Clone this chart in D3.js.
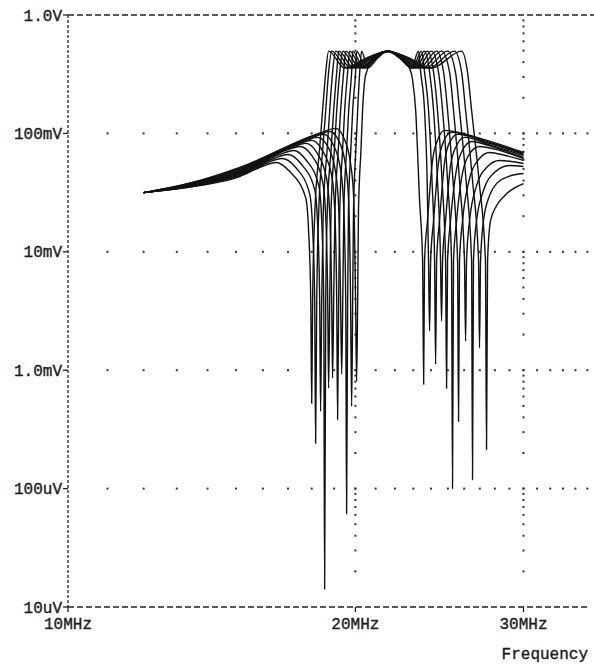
<!DOCTYPE html>
<html>
<head>
<meta charset="utf-8">
<script src="https://cdn.jsdelivr.net/npm/d3@7"></script>
<style>
body { margin: 0; background: #fff; }
.lbl { font-family: "Liberation Mono", "DejaVu Sans Mono", monospace; font-size: 16px; fill: #1a1a1a; stroke: #1a1a1a; stroke-width: 0.35px; }
</style>
</head>
<body>
<div id="chart"></div>
<script>
// axis labels
var FREQ_TICKS = [10, 20, 30];
var FREQ_LABELS = ['10MHz', '20MHz', '30MHz'];
var VOLT_TICKS = [1e-5, 1e-4, 1e-3, 1e-2, 1e-1, 1];
var VOLT_LABELS = ['10uV', '100uV', '1.0mV', '10mV', '100mV', '1.0V'];

// traces: [frequency MHz, volts]
var trace01 = [[12.0,0.0316],[13.74,0.0362],[15.13,0.0432],[15.96,0.0525],[16.51,0.0568],[17.07,0.0476],[17.74,0.0287],[17.87,0.0145],[17.96,0.00384],[18.00,0.000525],[18.04,0.00384],[18.14,0.0223],[18.34,0.0718],[18.48,0.157],[18.62,0.329],[18.75,0.495],[19.49,0.356],[20.53,0.432],[21.62,0.495],[22.79,0.432],[24.03,0.356],[25.84,0.495],[26.21,0.329],[26.47,0.157],[26.95,0.0400],[27.37,0.00839],[27.44,0.000214],[27.51,0.00839],[27.71,0.0183],[28.11,0.0245],[28.66,0.0298],[29.28,0.0342],[30.0,0.0377]];
var trace02 = [[12.0,0.0316],[13.74,0.0366],[15.13,0.0440],[16.19,0.0568],[16.75,0.0614],[17.32,0.0515],[17.91,0.0310],[18.04,0.0157],[18.13,0.00384],[18.17,0.000241],[18.22,0.00384],[18.31,0.0223],[18.48,0.0718],[18.62,0.157],[18.75,0.329],[18.89,0.495],[19.63,0.356],[20.60,0.432],[21.62,0.495],[22.71,0.432],[23.86,0.356],[25.40,0.495],[25.84,0.329],[26.09,0.157],[26.53,0.0400],[26.92,0.00839],[26.98,0.00154],[27.05,0.00839],[27.24,0.0183],[27.64,0.0298],[28.18,0.0384],[28.93,0.0432],[30.0,0.0458]];
var trace03 = [[12.0,0.0316],[13.74,0.0369],[15.13,0.0448],[16.43,0.0614],[16.99,0.0664],[17.53,0.0557],[18.13,0.0335],[18.26,0.0169],[18.35,0.00384],[18.39,0.000449],[18.44,0.00384],[18.51,0.0223],[18.68,0.0718],[18.80,0.157],[18.93,0.329],[19.07,0.495],[19.77,0.356],[20.67,0.432],[21.62,0.495],[22.63,0.432],[23.69,0.356],[24.98,0.495],[25.46,0.329],[25.71,0.157],[26.12,0.0400],[26.47,0.00839],[26.53,0.000119],[26.59,0.00839],[26.79,0.0183],[27.24,0.0329],[27.97,0.0467],[29.00,0.0536],[30.0,0.0525]];
var trace04 = [[12.0,0.0316],[13.74,0.0373],[15.13,0.0456],[16.67,0.0664],[17.24,0.0718],[17.74,0.0602],[18.31,0.0362],[18.44,0.0183],[18.53,0.00384],[18.57,0.0000142],[18.62,0.00384],[18.69,0.0223],[18.86,0.0718],[18.98,0.157],[19.12,0.329],[19.21,0.495],[19.92,0.356],[20.75,0.432],[21.62,0.495],[22.55,0.432],[23.52,0.356],[24.62,0.495],[25.10,0.329],[25.34,0.157],[25.71,0.0400],[26.02,0.00839],[26.09,0.00176],[26.15,0.00839],[26.34,0.0183],[26.79,0.0362],[27.51,0.0525],[28.31,0.0591],[30.0,0.0557]];
var trace05 = [[12.0,0.0316],[13.74,0.0376],[15.13,0.0464],[16.91,0.0718],[17.49,0.0776],[18.00,0.0651],[18.48,0.0392],[18.62,0.0198],[18.71,0.00384],[18.75,0.000704],[18.80,0.00384],[18.86,0.0223],[19.01,0.0718],[19.12,0.157],[19.26,0.329],[19.40,0.495],[20.06,0.356],[20.82,0.432],[21.62,0.495],[22.47,0.432],[23.35,0.356],[24.33,0.495],[24.74,0.329],[24.98,0.157],[25.31,0.0400],[25.59,0.00839],[25.65,0.000370],[25.71,0.00839],[25.90,0.0183],[26.34,0.0416],[26.98,0.0614],[27.64,0.0690],[28.72,0.0651],[30.0,0.0591]];
var trace06 = [[12.0,0.0316],[13.74,0.0380],[15.13,0.0472],[17.15,0.0761],[17.74,0.0823],[18.22,0.0690],[18.66,0.0416],[18.80,0.0210],[18.89,0.00384],[18.93,0.000856],[18.98,0.00384],[19.04,0.0223],[19.19,0.0718],[19.30,0.157],[19.44,0.329],[19.54,0.495],[20.21,0.356],[20.90,0.432],[21.62,0.495],[22.41,0.432],[23.24,0.356],[24.03,0.495],[24.44,0.329],[24.68,0.157],[24.98,0.0400],[25.22,0.00839],[25.28,0.000100],[25.34,0.00839],[25.53,0.0183],[25.90,0.0467],[26.40,0.0690],[26.98,0.0776],[28.31,0.0718],[30.0,0.0614]];
var trace07 = [[12.0,0.0316],[13.74,0.0384],[15.13,0.0480],[17.40,0.0807],[18.00,0.0873],[18.44,0.0732],[18.89,0.0441],[19.03,0.0223],[19.12,0.00384],[19.16,0.000384],[19.21,0.00384],[19.26,0.0223],[19.39,0.0718],[19.49,0.157],[19.63,0.329],[19.73,0.495],[20.30,0.356],[20.95,0.432],[21.62,0.495],[22.36,0.432],[23.13,0.356],[23.80,0.495],[24.15,0.329],[24.38,0.157],[24.65,0.0400],[24.86,0.00839],[24.92,0.000704],[24.98,0.00839],[25.16,0.0183],[25.53,0.0505],[25.96,0.0746],[26.47,0.0855],[27.97,0.0761],[30.0,0.0626]];
var trace08 = [[12.0,0.0316],[13.74,0.0388],[15.13,0.0489],[17.66,0.0855],[18.26,0.0925],[18.71,0.0776],[19.07,0.0467],[19.21,0.0236],[19.30,0.00384],[19.35,0.000925],[19.40,0.00384],[19.45,0.0223],[19.58,0.0718],[19.68,0.157],[19.82,0.329],[19.87,0.495],[20.40,0.356],[21.00,0.432],[21.62,0.495],[22.30,0.432],[23.01,0.356],[23.63,0.495],[23.92,0.329],[24.15,0.157],[24.38,0.0400],[24.56,0.00839],[24.62,0.00260],[24.68,0.00839],[24.86,0.0183],[25.16,0.0536],[25.53,0.0791],[26.02,0.0925],[27.77,0.0791],[30.0,0.0651]];
var trace09 = [[12.0,0.0316],[13.74,0.0392],[15.13,0.0497],[17.91,0.0907],[18.53,0.0981],[18.93,0.0823],[19.30,0.0495],[19.44,0.0250],[19.54,0.00384],[19.58,0.0000614],[19.63,0.00384],[19.67,0.0223],[19.78,0.0718],[19.87,0.157],[20.01,0.329],[20.06,0.495],[20.50,0.356],[21.05,0.432],[21.62,0.495],[22.28,0.432],[22.96,0.356],[23.46,0.495],[23.63,0.329],[23.86,0.157],[24.06,0.0400],[24.21,0.00839],[24.27,0.00112],[24.33,0.00839],[24.50,0.0183],[24.80,0.0568],[25.10,0.0839],[25.59,0.0981],[27.64,0.0823],[30.0,0.0664]];
var trace10 = [[12.0,0.0316],[13.74,0.0396],[15.13,0.0506],[18.17,0.0961],[18.80,0.1039],[19.21,0.0873],[19.54,0.0525],[19.68,0.0265],[19.77,0.00384],[19.82,0.000495],[19.87,0.00384],[19.91,0.0223],[20.02,0.0718],[20.11,0.157],[20.21,0.329],[20.30,0.495],[20.60,0.356],[21.10,0.432],[21.62,0.495],[22.25,0.432],[22.90,0.356],[23.29,0.495],[23.41,0.329],[23.63,0.157],[23.78,0.0400],[23.86,0.00839],[23.92,0.00214],[23.98,0.00839],[24.15,0.0183],[24.44,0.0568],[24.74,0.0855],[25.22,0.1020],[27.44,0.0855],[30.0,0.0677]];
var trace11 = [[12.0,0.0316],[13.74,0.0400],[15.13,0.0515],[18.44,0.1020],[19.07,0.1102],[19.44,0.0925],[19.77,0.0557],[19.92,0.0281],[20.01,0.00384],[20.06,0.000807],[20.11,0.00384],[20.15,0.0223],[20.27,0.0718],[20.35,0.157],[20.50,0.310],[20.95,0.432],[21.62,0.486],[22.30,0.432],[22.79,0.356],[22.96,0.281],[23.13,0.157],[23.35,0.0270],[23.52,0.00839],[23.58,0.000761],[23.63,0.00839],[23.80,0.0183],[24.09,0.0591],[24.38,0.0873],[24.80,0.1060],[27.24,0.0889],[30.0,0.0690]];

var TRACES = [trace01, trace02, trace03, trace04, trace05, trace06, trace07, trace08, trace09, trace10, trace11];

var width = 594, height = 665;
var padL = 68, padT = 15, padB = 607;

var svg = d3.select('#chart')
    .append('svg')
    .attr('width', width)
    .attr('height', height);

var x = d3.scaleLog().domain([10, 35]).range([padL, 587.4]);
var y = d3.scaleLog().domain([1e-5, 1]).range([padB, padT]);

// minor tick positions for the dotted grid
var fMinor = d3.range(11, 36);
var vMinor = [];
for (var e = -5; e < 0; e++)
    for (var k = 1; k < 10; k++)
        vMinor.push(k * Math.pow(10, e));

var grid = svg.append('g').attr('fill', '#333');

// dotted horizontal lines at each decade
VOLT_TICKS.slice(1, 5).forEach(function (v) {
    grid.selectAll(null)
        .data(fMinor)
        .enter()
        .append('rect')
        .attr('x', (f) => x(f) - 1)
        .attr('y', y(v) - 1)
        .attr('width', 2)
        .attr('height', 2);
});

// dotted vertical lines at 20MHz / 30MHz
FREQ_TICKS.slice(1).forEach(function (f) {
    grid.selectAll(null)
        .data(vMinor.filter((v) => v > 1.01e-5))
        .enter()
        .append('rect')
        .attr('x', x(f) - 1)
        .attr('y', (v) => y(v) - 1)
        .attr('width', 2)
        .attr('height', 2);
});

// axes (dashed like the plotter output)
var axes = svg.append('g')
    .attr('stroke', '#222')
    .attr('stroke-width', 1.3)
    .attr('fill', 'none');

axes.append('line')
    .attr('x1', padL).attr('x2', padL)
    .attr('y1', padT).attr('y2', padB)
    .attr('stroke-dasharray', '3,2');
axes.append('line')
    .attr('x1', padL).attr('x2', width)
    .attr('y1', padT).attr('y2', padT)
    .attr('stroke-dasharray', '6,3');
axes.append('line')
    .attr('x1', padL).attr('x2', x(35))
    .attr('y1', padB).attr('y2', padB)
    .attr('stroke-dasharray', '6,3');

axes.selectAll('.ytick')
    .data(VOLT_TICKS)
    .enter()
    .append('line')
    .attr('x1', padL - 5).attr('x2', padL)
    .attr('y1', (d) => y(d)).attr('y2', (d) => y(d));

axes.selectAll('.xtick')
    .data(FREQ_TICKS)
    .enter()
    .append('line')
    .attr('x1', (d) => x(d)).attr('x2', (d) => x(d))
    .attr('y1', padB).attr('y2', padB + 5);

// labels
svg.selectAll('.vlabel')
    .data(VOLT_TICKS)
    .enter()
    .append('text')
    .attr('class', 'lbl')
    .attr('x', padL - 6)
    .attr('y', (d) => y(d))
    .attr('dy', '0.35em')
    .attr('text-anchor', 'end')
    .text((d, i) => VOLT_LABELS[i]);

svg.selectAll('.flabel')
    .data(FREQ_TICKS)
    .enter()
    .append('text')
    .attr('class', 'lbl')
    .attr('x', (d) => x(d))
    .attr('y', 629)
    .attr('text-anchor', 'middle')
    .text((d, i) => FREQ_LABELS[i]);

svg.append('text')
    .attr('class', 'lbl')
    .attr('x', 588)
    .attr('y', 659)
    .attr('text-anchor', 'end')
    .text('Frequency');

// the traces
var line = d3.line()
    .x((d) => x(d[0]))
    .y((d) => y(d[1]))
    .curve(d3.curveMonotoneX);

svg.append('g')
    .selectAll('path')
    .data(TRACES)
    .enter()
    .append('path')
    .attr('d', line)
    .attr('fill', 'none')
    .attr('stroke', '#111')
    .attr('stroke-width', 1.4);
</script>
</body>
</html>
